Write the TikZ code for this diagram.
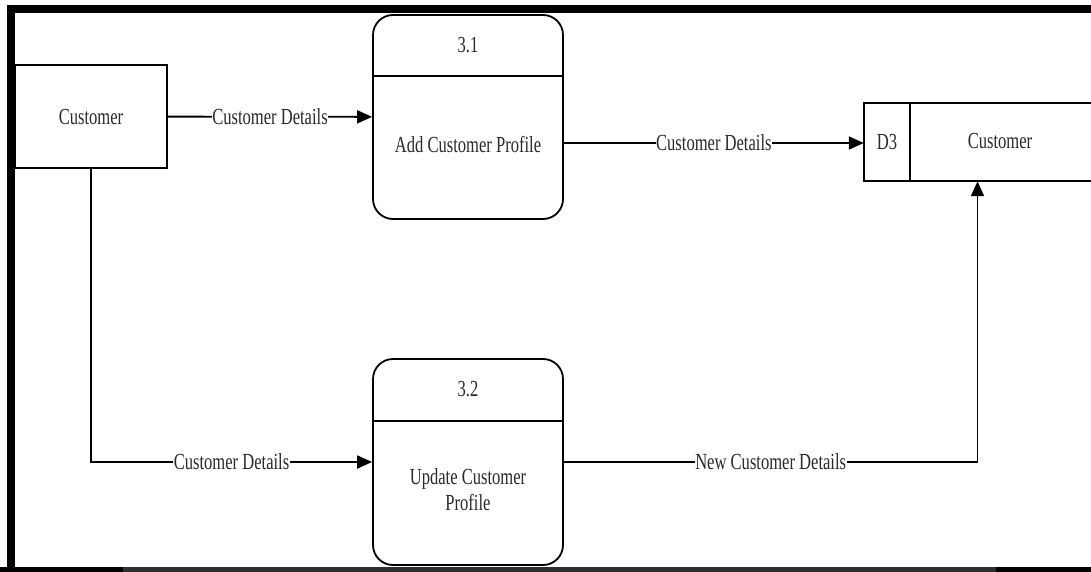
\documentclass[tikz,border=0pt]{standalone}
\usepackage{fontspec}
\setmainfont[FakeStretch=0.72]{Liberation Serif}
\usetikzlibrary{arrows.meta}
\definecolor{txt}{HTML}{2A2A2A}
\definecolor{strip}{HTML}{2E2E2E}
\begin{document}
\begin{tikzpicture}[x=1pt,y=-1pt,
  every node/.style={font=\fontsize{23}{26}\selectfont, text=txt, inner sep=0pt},
  ln/.style={line width=1.8pt, draw=black},
  flow/.style={ln, -{Triangle[length=15pt,width=13pt]}},
  ent/.style={draw, line width=1.8pt, minimum width=152pt, minimum height=103pt},
  proc/.style={draw, line width=1.8pt, rounded corners=20pt, minimum width=190pt},
  lbl/.style={fill=white, inner sep=0.5pt}]
\useasboundingbox (0,0) rectangle (1091,572);
\fill[white] (0,0) rectangle (1091,572);
% external entity
\node[ent] (cust) at (91,116.5) {Customer};
% process 3.1
\node[proc, minimum height=204pt] (p1) at (468,117) {};
\draw[ln] (p1.west |- 0,76) -- (p1.east |- 0,76);
\node (p1n) at (468,45) {3.1};
\node (p1b) at (468,145) {Add Customer Profile};
% process 3.2
\node[proc, minimum height=206pt] (p2) at (468,462) {};
\draw[ln] (p2.west |- 0,421) -- (p2.east |- 0,421);
\node (p2n) at (468,389) {3.2};
\node[align=center] (p2b) at (468,490) {Update Customer\\Profile};
% data store D3
\node[minimum width=227pt, minimum height=78pt] (d3) at (977.5,142) {};
\draw[ln] (d3.north east) -- (d3.north west) -- (d3.south west) -- (d3.south east);
\draw[ln] ([xshift=46pt]d3.north west) -- ([xshift=46pt]d3.south west);
\node (d3id) at (887,142) {D3};
\node (d3name) at (1000,141) {Customer};
% flows
\draw[flow] (cust) -- node[lbl]{Customer Details} (p1);
\draw[flow] (p1.east |- 0,143) -- node[lbl]{Customer Details} (d3.west |- 0,143);
\draw[flow] (cust.south) |- node[lbl, pos=0.75]{Customer Details} (p2.west);
\draw[flow] (p2.east) -| node[lbl, pos=0.25]{New Customer Details} (d3.south);
% frame
\fill[black] (7,5) rectangle (1091,13);
\fill[black] (7,5) rectangle (15,567);
\fill[strip] (0,567) rectangle (1091,572);
\fill[black] (0,567) rectangle (123,572);
\fill[black] (996,567) rectangle (1091,572);
\end{tikzpicture}
\end{document}
